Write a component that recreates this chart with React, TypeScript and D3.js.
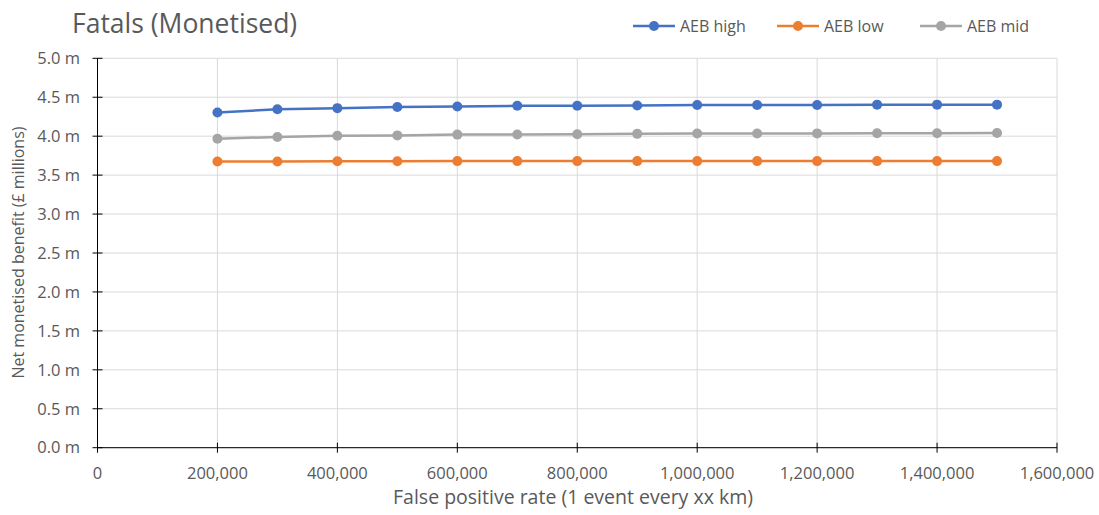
import React from "react";
import * as d3 from "d3";

const xValues = [200000, 300000, 400000, 500000, 600000, 700000, 800000, 900000, 1000000, 1100000, 1200000, 1300000, 1400000, 1500000];
const aebHigh = [4.305, 4.345, 4.36, 4.375, 4.38, 4.39, 4.39, 4.395, 4.40, 4.40, 4.40, 4.405, 4.405, 4.405];
const aebLow = [3.675, 3.675, 3.678, 3.678, 3.68, 3.68, 3.68, 3.68, 3.68, 3.68, 3.68, 3.68, 3.68, 3.68];
const aebMid = [3.967, 3.99, 4.005, 4.01, 4.02, 4.022, 4.025, 4.03, 4.035, 4.035, 4.036, 4.038, 4.038, 4.04];
const seriesNames = ["AEB high", "AEB low", "AEB mid"];
const seriesColors = ["#4472C4", "#ED7D31", "#A5A5A5"];
const xTicks = [0, 200000, 400000, 600000, 800000, 1000000, 1200000, 1400000, 1600000];
const yTicks = [0, 0.5, 1, 1.5, 2, 2.5, 3, 3.5, 4, 4.5, 5];

export default function App() {
  const W = 1099, H = 515;
  const x = d3.scaleLinear().domain([0, 1600000]).range([97.5, 1057]);
  const y = d3.scaleLinear().domain([0, 5]).range([447.7, 58.3]);
  const font = "'Open Sans', sans-serif";
  const txt = "#595959";
  const series = [aebHigh, aebLow, aebMid];
  const line = d3.line<number>().x((_, i) => x(xValues[i])).y((d) => y(d));
  const fmt = d3.format(",");
  const legendX = [633, 777, 920];
  return (
    <svg width={W} height={H} style={{ position: "absolute", left: 0, top: 0, background: "#fff" }} fontFamily={font}>
      <text x={72} y={33} fontSize={26.5} fill={txt}>Fatals (Monetised)</text>
      {yTicks.map((t) => (
        <line key={"gy" + t} x1={x(0)} x2={x(1600000)} y1={y(t)} y2={y(t)} stroke="#d9d9d9" strokeWidth={1} />
      ))}
      {xTicks.map((t) => (
        <line key={"gx" + t} x1={x(t)} x2={x(t)} y1={y(0)} y2={y(5)} stroke="#d9d9d9" strokeWidth={1} />
      ))}
      <line x1={x(0)} x2={x(0)} y1={y(0)} y2={y(5)} stroke="#000" strokeWidth={1} />
      <line x1={x(0)} x2={x(1600000)} y1={y(0)} y2={y(0)} stroke="#000" strokeWidth={1} />
      {yTicks.map((t) => (
        <g key={"ty" + t}>
          <line x1={x(0) - 5} x2={x(0) + 5} y1={y(t)} y2={y(t)} stroke="#000" />
          <text x={80} y={y(t)} dy="0.35em" textAnchor="end" fontSize={16.5} fill={txt}>{t.toFixed(1) + " m"}</text>
        </g>
      ))}
      {xTicks.map((t) => (
        <g key={"tx" + t}>
          <line x1={x(t)} x2={x(t)} y1={y(0) - 5} y2={y(0) + 5} stroke="#000" />
          <text x={x(t)} y={479} textAnchor="middle" fontSize={16.5} fill={txt}>{fmt(t)}</text>
        </g>
      ))}
      <text x={573} y={504} textAnchor="middle" fontSize={19.5} fill={txt}>False positive rate (1 event every xx km)</text>
      <text transform={`translate(24, 252.5) rotate(-90)`} textAnchor="middle" fontSize={16} fill={txt}>Net monetised benefit (£ millions)</text>
      {series.map((s, si) => (
        <g key={"s" + si}>
          <path d={line(s) || ""} fill="none" stroke={seriesColors[si]} strokeWidth={2.5} />
          {s.map((v, i) => (
            <circle key={i} cx={x(xValues[i])} cy={y(v)} r={5} fill={seriesColors[si]} />
          ))}
        </g>
      ))}
      {seriesNames.map((n, i) => (
        <g key={"l" + n}>
          <line x1={legendX[i]} x2={legendX[i] + 42} y1={26} y2={26} stroke={seriesColors[i]} strokeWidth={2.5} />
          <circle cx={legendX[i] + 21} cy={26} r={5} fill={seriesColors[i]} />
          <text x={legendX[i] + 47} y={26} dy="0.35em" fontSize={16} fill={txt}>{n}</text>
        </g>
      ))}
    </svg>
  );
}
